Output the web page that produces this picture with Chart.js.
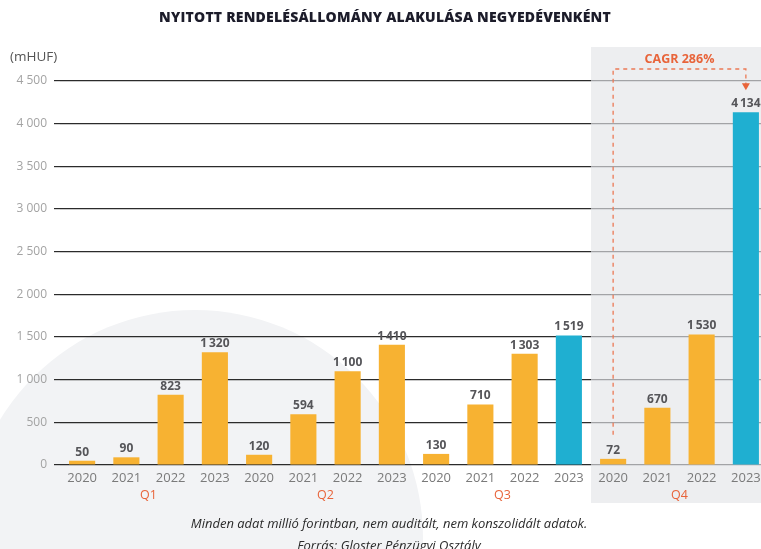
<!DOCTYPE html>
<html lang="hu">
<head>
  <meta charset="UTF-8" />
  <title>Nyitott rendelésállomány</title>
  <script src="https://cdn.jsdelivr.net/npm/chart.js"></script>
  <style>
    body {
      margin: 0;
      background: #fff;
      overflow: hidden;
      width: 761px;
      height: 549px;
    }
    #wrap { position: relative; width: 775px; height: 549px; }
  </style>
</head>
<body>
<div id="wrap"><canvas id="chart" width="775" height="549"></canvas></div>

<script>
  // data
  const years = ['2020', '2021', '2022', '2023'];
  const quarters = ['Q1', 'Q2', 'Q3', 'Q4'];
  const q1 = [50, 90, 823, 1320];
  const q2 = [120, 594, 1100, 1410];
  const q3 = [130, 710, 1303, 1519];
  const q4 = [72, 670, 1530, 4134];
  const yTicks = [0, 500, 1000, 1500, 2000, 2500, 3000, 3500, 4000, 4500];
  const cagrText = 'CAGR 286%';

  const ORANGE = '#f7b232';
  const BLUE = '#1fafd1';
  const RED = '#e8643a';
  const GRID_W = 1.2;

  const labels = [];
  quarters.forEach(() => years.forEach(y => labels.push(y)));
  const values = [...q1, ...q2, ...q3, ...q4];
  // 2023 in Q3 and Q4 highlighted in blue
  const colors = values.map((v, i) => (i === 11 || i === 15) ? BLUE : ORANGE);

  const fmt = v => v >= 1000 ? String(v).replace(/(\d)(\d{3})$/, '$1\u2009$2') : String(v);

  function boxLeft(chart) {
    const x = chart.scales.x;
    return (x.getPixelForValue(11) + x.getPixelForValue(12)) / 2;
  }

  const decor = {
    id: 'decor',
    beforeDraw(chart) {
      const ctx = chart.ctx;
      ctx.save();
      ctx.fillStyle = '#f2f3f5';
      ctx.beginPath();
      ctx.arc(195, 538, 228, 0, Math.PI * 2);
      ctx.fill();
      const left = boxLeft(chart);
      ctx.fillStyle = '#edeef0';
      ctx.fillRect(left, 47, chart.width - left, 456);
      ctx.restore();
    },
    beforeDatasetsDraw(chart) {
      // lighter grid lines inside the Q4 box, same alignment as Chart.js grid
      const ctx = chart.ctx;
      const y = chart.scales.y;
      const left = boxLeft(chart);
      ctx.save();
      yTicks.forEach(v => {
        const py = Math.round(y.getPixelForValue(v) - GRID_W / 2) + GRID_W / 2;
        ctx.fillStyle = '#edeef0';
        ctx.fillRect(left, py - 1.5, chart.width - left, 3);
        ctx.strokeStyle = '#a2a3a6';
        ctx.lineWidth = GRID_W;
        ctx.beginPath();
        ctx.moveTo(left, py);
        ctx.lineTo(chart.width, py);
        ctx.stroke();
      });
      ctx.restore();
    },
    afterDatasetsDraw(chart) {
      const ctx = chart.ctx;
      const meta = chart.getDatasetMeta(0);
      const x = chart.scales.x;
      ctx.save();
      // value labels
      ctx.font = 'bold 12px "Open Sans", sans-serif';
      ctx.fillStyle = '#555559';
      ctx.textAlign = 'center';
      ctx.textBaseline = 'alphabetic';
      meta.data.forEach((bar, i) => {
        ctx.fillText(fmt(values[i]), bar.x, bar.y - 5);
      });

      // quarter labels
      ctx.font = '12.5px "Open Sans", sans-serif';
      ctx.fillStyle = RED;
      ctx.textBaseline = 'middle';
      quarters.forEach((q, k) => {
        const cx = (x.getPixelForValue(k * 4) + x.getPixelForValue(k * 4 + 3)) / 2;
        ctx.fillText(q, cx, 495);
      });

      // CAGR dashed arrow
      const xa = meta.data[12].x, xb = meta.data[15].x;
      const yStart = meta.data[12].y - 24;
      const yTop = 69;
      const yEnd = meta.data[15].y - 22;
      ctx.strokeStyle = '#ec7a55';
      ctx.lineWidth = 1.3;
      ctx.setLineDash([4, 4]);
      ctx.beginPath();
      ctx.moveTo(xa, yStart);
      ctx.lineTo(xa, yTop);
      ctx.lineTo(xb, yTop);
      ctx.lineTo(xb, yEnd - 6);
      ctx.stroke();
      ctx.setLineDash([]);
      ctx.fillStyle = RED;
      ctx.beginPath();
      ctx.moveTo(xb - 4, yEnd - 7);
      ctx.lineTo(xb + 4, yEnd - 7);
      ctx.lineTo(xb, yEnd);
      ctx.closePath();
      ctx.fill();
      ctx.font = 'bold 12.5px "Open Sans", sans-serif';
      ctx.fillText(cagrText, (xa + xb) / 2, 59);

      // title, unit, notes
      ctx.fillStyle = '#1c1c2a';
      ctx.font = '800 14px "Open Sans", sans-serif';
      ctx.letterSpacing = '0.2px';
      ctx.fillText('NYITOTT RENDELÉSÁLLOMÁNY ALAKULÁSA NEGYEDÉVENKÉNT', 385, 18);
      ctx.letterSpacing = '0px';
      ctx.textAlign = 'left';
      ctx.fillStyle = '#555';
      ctx.font = '13.5px "Open Sans", sans-serif';
      ctx.fillText('(mHUF)', 10, 57);
      ctx.textAlign = 'center';
      ctx.fillStyle = '#2a2a2a';
      ctx.font = 'italic 13px "Open Sans", sans-serif';
      ctx.fillText('Minden adat millió forintban, nem auditált, nem konszolidált adatok.', 389, 524);
      ctx.fillText('Forrás: Gloster Pénzügyi Osztály', 389, 546);
      ctx.restore();
    }
  };

  new Chart(document.getElementById('chart'), {
    type: 'bar',
    data: {
      labels: labels,
      datasets: [{
        data: values,
        backgroundColor: colors,
        borderWidth: 0,
        barPercentage: 0.59,
        categoryPercentage: 1
      }]
    },
    options: {
      responsive: false,
      animation: false,
      layout: { padding: { top: 81, right: 7, left: 0, bottom: 0 } },
      plugins: {
        legend: { display: false },
        tooltip: { enabled: false }
      },
      scales: {
        x: {
          afterFit: s => { s.height = 84; },
          grid: { display: false, drawTicks: false },
          border: { display: false },
          ticks: {
            color: '#7a7a7a',
            font: { family: 'Open Sans', size: 13 },
            padding: 5,
            maxRotation: 0,
            autoSkip: false
          }
        },
        y: {
          min: 0,
          max: 4500,
          afterFit: s => { s.width = 60; },
          afterBuildTicks: s => { s.ticks = yTicks.map(v => ({ value: v })); },
          border: { display: false },
          grid: {
            color: '#2b2b2b',
            lineWidth: GRID_W,
            tickLength: 6,
            tickColor: '#2b2b2b'
          },
          ticks: {
            color: '#a3a3a3',
            font: { family: 'Open Sans', size: 12 },
            padding: 7,
            callback: v => fmt(v).replace('\u2009', ' ')
          }
        }
      }
    },
    plugins: [decor]
  });
</script>
</body>
</html>
